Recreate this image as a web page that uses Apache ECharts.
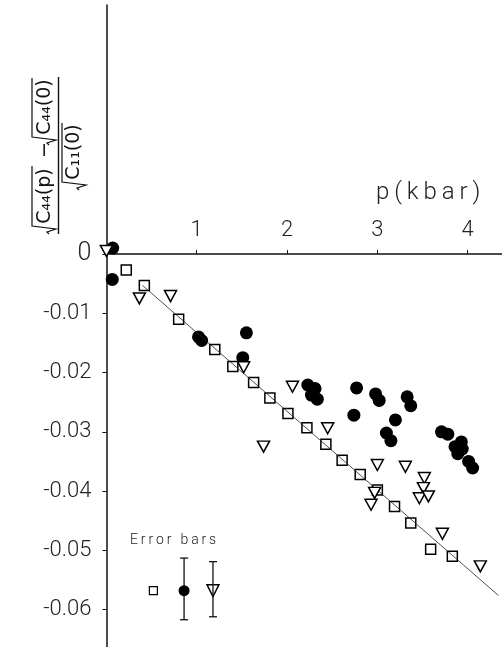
<!DOCTYPE html>
<html>
<head>
<meta charset="utf-8">
<script src="https://cdn.jsdelivr.net/npm/echarts@6/dist/echarts.min.js"></script>
<style>
  html, body { margin: 0; padding: 0; background: #fff; }
  #chart { width: 502px; height: 647px; }
</style>
</head>
<body>
<div id="chart"></div>
<script>
// pressure in kbar, relative change of sqrt(C44)
const circleP = [0.07, 0.065, 1.02, 1.055, 1.55, 1.51, 2.23, 2.31, 2.27, 2.335, 2.77, 2.74, 2.98, 3.02, 3.33, 3.37, 3.20, 3.10, 3.15, 3.71, 3.78, 3.93, 3.86, 3.94, 3.89, 4.01, 4.055];
const circleV = [0.0010, -0.0043, -0.0140, -0.0146, -0.0133, -0.0175, -0.0221, -0.0227, -0.0238, -0.0245, -0.0226, -0.0272, -0.0236, -0.0247, -0.0241, -0.0256, -0.0280, -0.0302, -0.0315, -0.0300, -0.0304, -0.0317, -0.0325, -0.0329, -0.0337, -0.0350, -0.0361];

const squareP = [0.22, 0.42, 0.80, 1.20, 1.40, 1.63, 1.81, 2.01, 2.22, 2.43, 2.61, 2.81, 3.00, 3.19, 3.37, 3.59, 3.83];
const squareV = [-0.0027, -0.0053, -0.0110, -0.0161, -0.0190, -0.0217, -0.0243, -0.0269, -0.0293, -0.0321, -0.0348, -0.0372, -0.0398, -0.0426, -0.0454, -0.0498, -0.0510];

const triP = [0.0, 0.365, 0.71, 1.52, 2.06, 1.74, 2.45, 3.00, 3.31, 3.52, 3.51, 3.465, 3.565, 2.97, 2.93, 3.72, 4.14];
const triV = [0.0005, -0.0075, -0.0071, -0.0191, -0.0224, -0.0325, -0.0294, -0.0356, -0.0359, -0.0378, -0.0395, -0.0412, -0.0409, -0.0403, -0.0423, -0.0472, -0.0527];

// fitted straight line, end points
const fitP = [0.40, 4.34];
const fitV = [-0.0053, -0.0576];

// "Error bars" key: square, circle, triangle
const errP = [0.52, 0.86, 1.18];
const errV = [-0.0568, -0.0568, -0.0568];
const errLow = [null, -0.0617, -0.0612];
const errHigh = [null, -0.0513, -0.0519];

const xTicks = [1, 2, 3, 4];
const yTicks = [0, -0.01, -0.02, -0.03, -0.04, -0.05, -0.06];

const pairs = (xs, ys) => xs.map((x, i) => [x, ys[i]]);

const chart = echarts.init(document.getElementById("chart"));

const labelFont = "Roboto";
const ink = "#111";
const thin = "\u2009";
const spaced = (s) => s.split("").join(thin);

const gridTop = 5;
const yMin = -0.0663;
const yMax = 0.042;
const plotH = 647 - gridTop;
// x axis sits on y = 0, labels above it
const zeroOffset = -(yMax / (yMax - yMin)) * plotH;

// radical sign drawn in the local (unrotated) frame of the y title
function radical(a, b, top, bottom) {
  const mid = (top + bottom) / 2 + 4;
  return {
    type: "polyline",
    shape: { points: [[a - 9, mid + 1], [a - 7, mid - 1], [a - 4, bottom], [a - 1, top], [b, top]] },
    style: { stroke: ink, lineWidth: 1.2, fill: null },
  };
}

const titleText = (text, x, y) => ({
  type: "text",
  style: { text, x, y, align: "center", verticalAlign: "middle", font: "19px 'DejaVu Sans'", fill: ink },
});

chart.setOption({
  animation: false,
  grid: { left: 106.4, right: 0, top: gridTop, bottom: 0, outerBoundsMode: "none", containLabel: false },
  xAxis: {
    type: "value",
    position: "top",
    offset: zeroOffset,
    min: 0,
    max: 4.38,
    axisLine: { onZero: false, lineStyle: { color: ink, width: 1.5 } },
    axisTick: { show: true, length: 4, customValues: xTicks, lineStyle: { color: ink } },
    axisLabel: { customValues: xTicks, margin: 12, color: "#222", fontSize: 22, fontFamily: labelFont, fontWeight: 300 },
    splitLine: { show: false },
  },
  yAxis: {
    type: "value",
    min: yMin,
    max: yMax,
    axisLine: { show: true, lineStyle: { color: ink, width: 1.5 } },
    axisTick: { show: true, length: 4, customValues: yTicks, lineStyle: { color: ink } },
    axisLabel: {
      customValues: yTicks,
      margin: 15,
      color: "#222",
      fontSize: 22,
      fontFamily: labelFont,
      fontWeight: 300,
      formatter: (v) => (v === 0 ? "{z|0}" : "-" + Math.abs(v).toFixed(2)),
      rich: { z: { fontSize: 25, fontFamily: labelFont, fontWeight: 300, color: "#222" } },
    },
    splitLine: { show: false },
  },
  graphic: [
    {
      type: "text",
      left: 376,
      top: 181,
      style: { text: spaced("p(kbar)"), font: "300 24px Roboto", fill: "#222" },
    },
    {
      type: "text",
      left: 130,
      top: 533,
      style: { text: spaced("Error bars"), font: "300 14px Roboto", fill: "#222" },
    },
    {
      type: "group",
      x: 57,
      y: 154,
      rotation: Math.PI / 2,
      children: [
        titleText("C₄₄(p)", -42, -12),
        titleText("−", 4, -12),
        titleText("C₄₄(0)", 47, -12),
        radical(-71, -12, -25, -1),
        radical(18, 76, -25, -1),
        { type: "line", shape: { x1: -80, y1: 1.5, x2: 77, y2: 1.5 }, style: { stroke: ink, lineWidth: 1.4 } },
        titleText("C₁₁(0)", 2, 17),
        radical(-27, 31, 5, 29),
      ],
    },
  ],
  series: [
    {
      type: "scatter",
      symbol: "circle",
      symbolSize: 13,
      itemStyle: { color: "#000", opacity: 1 },
      data: pairs(circleP, circleV),
    },
    {
      type: "scatter",
      symbol: "rect",
      symbolSize: 10,
      itemStyle: { color: "#fff", borderColor: "#000", borderWidth: 1.5, opacity: 1 },
      data: pairs(squareP, squareV),
    },
    {
      type: "line",
      showSymbol: false,
      lineStyle: { color: "#222", width: 0.8 },
      data: pairs(fitP, fitV),
      z: 3,
    },
    {
      type: "scatter",
      symbol: "triangle",
      symbolRotate: 180,
      symbolSize: [12, 11],
      itemStyle: { color: "#fff", borderColor: "#000", borderWidth: 1.5, opacity: 1 },
      data: pairs(triP, triV),
      z: 4,
    },
    // error bar key
    {
      type: "custom",
      z: 3,
      renderItem: (params, api) => {
        const i = params.dataIndex;
        if (errLow[i] == null) return null;
        const lo = api.coord([errP[i], errLow[i]]);
        const hi = api.coord([errP[i], errHigh[i]]);
        const w = 4;
        const st = { stroke: ink, lineWidth: 1.3 };
        return {
          type: "group",
          children: [
            { type: "line", shape: { x1: lo[0], y1: lo[1], x2: hi[0], y2: hi[1] }, style: st },
            { type: "line", shape: { x1: lo[0] - w, y1: lo[1], x2: lo[0] + w, y2: lo[1] }, style: st },
            { type: "line", shape: { x1: hi[0] - w, y1: hi[1], x2: hi[0] + w, y2: hi[1] }, style: st },
          ],
        };
      },
      data: pairs(errP, errV),
    },
    {
      type: "scatter",
      symbol: "rect",
      symbolSize: 8,
      itemStyle: { color: "#fff", borderColor: "#000", borderWidth: 1.2, opacity: 1 },
      data: [[errP[0], errV[0]]],
    },
    {
      type: "scatter",
      symbol: "circle",
      symbolSize: 11,
      itemStyle: { color: "#000", opacity: 1 },
      data: [[errP[1], errV[1]]],
      z: 4,
    },
    {
      type: "scatter",
      symbol: "triangle",
      symbolRotate: 180,
      symbolSize: [12, 12],
      itemStyle: { color: "#fff", borderColor: "#000", borderWidth: 1.4, opacity: 1 },
      data: [[errP[2], errV[2]]],
      z: 2,
    },
  ],
});
</script>
</body>
</html>
